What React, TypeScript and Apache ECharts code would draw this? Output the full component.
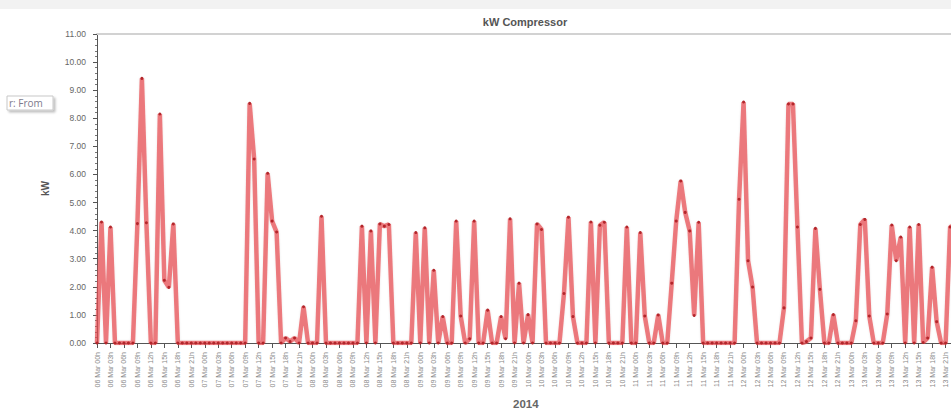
import React, { useEffect, useRef } from "react";
import * as echarts from "echarts";

// Tick labels: hourly categories, 06 Mar 00h .. 13 Mar 23h
const DAYS = ["06", "07", "08", "09", "10", "11", "12", "13"];
const MONTH = "Mar";
const categories: string[] = [];
for (const d of DAYS) {
  for (let hr = 0; hr < 24; hr++) {
    categories.push(`${d} ${MONTH} ${String(hr).padStart(2, "0")}h`);
  }
}

// kW Compressor, one value per hour
const kwCompressor: number[] = [
  // 06 Mar
  0, 4.31, 0, 4.13, 0, 0, 0, 0, 0, 4.25, 9.42, 4.28, 0, 0, 8.15, 2.23, 1.98, 4.24, 0, 0, 0, 0, 0, 0,
  // 07 Mar
  0, 0, 0, 0, 0, 0, 0, 0, 0, 0, 8.53, 6.55, 0, 0, 6.04, 4.34, 3.95, 0, 0.18, 0.05, 0.18, 0, 1.29, 0,
  // 08 Mar
  0, 0, 4.51, 0, 0, 0, 0, 0, 0, 0, 0, 4.16, 0, 3.99, 0, 4.24, 4.16, 4.22, 0, 0, 0, 0, 0, 3.93,
  // 09 Mar
  0, 4.1, 0, 2.59, 0, 0.94, 0, 0, 4.34, 0.96, 0, 0.15, 4.34, 0, 0, 1.17, 0, 0, 0.94, 0.15, 4.42, 0, 2.13, 0,
  // 10 Mar
  1.01, 0, 4.24, 4.04, 0, 0, 0, 0, 1.76, 4.48, 0.94, 0, 0, 0, 4.31, 0, 4.19, 4.3, 0, 0, 0, 0, 4.13, 0,
  // 11 Mar
  0, 3.93, 0.96, 0, 0, 1.0, 0, 0, 2.13, 4.34, 5.77, 4.65, 3.99, 0.98, 4.3, 0, 0, 0, 0, 0, 0, 0, 0, 5.12,
  // 12 Mar
  8.58, 2.93, 1.99, 0, 0, 0, 0, 0, 0, 1.25, 8.51, 8.51, 4.13, 0, 0.05, 0.18, 4.08, 1.91, 0, 0, 1.01, 0, 0, 0,
  // 13 Mar
  0, 0.79, 4.22, 4.4, 0.96, 0, 0, 0, 1.03, 4.2, 2.93, 3.77, 0, 4.13, 0, 4.22, 0.02, 0.18, 2.7, 0.76, 0, 0, 4.13, 4.2,
];

const Y_MIN = 0;
const Y_MAX = 11;
const Y_STEP = 1;

const TITLE = "kW Compressor";
const X_NAME = "2014";
const Y_NAME = "kW";
const FILTER_TEXT = "r: From";

export default function App() {
  const ref = useRef<HTMLDivElement>(null);

  useEffect(() => {
    if (!ref.current) return;
    const chart = echarts.init(ref.current, undefined, { renderer: "svg" });
    const font = "Liberation Sans, Arial, sans-serif";
    chart.setOption({
      animation: false,
      backgroundColor: "#ffffff",
      textStyle: { fontFamily: font },
      title: {
        text: TITLE,
        left: "center",
        top: 11,
        textStyle: { fontSize: 11, fontWeight: "bold", color: "#555555", fontFamily: font },
      },
      grid: { left: 97, right: 95.4, top: 34, bottom: 68 },
      xAxis: [
        {
          type: "category",
          data: categories,
          boundaryGap: false,
          name: X_NAME,
          nameLocation: "middle",
          nameGap: 55,
          nameTextStyle: { fontSize: 11.5, fontWeight: "bold", color: "#666666", fontFamily: font },
          axisLine: { show: true, lineStyle: { color: "#555555", width: 1 } },
          axisTick: { show: true, interval: 2, length: 5, lineStyle: { color: "#555555" } },
          axisLabel: { interval: 2, rotate: 90, fontSize: 7, color: "#888888", margin: 9, fontFamily: font },
          splitLine: { show: false },
        },
        {
          type: "category",
          data: categories,
          boundaryGap: false,
          position: "top",
          axisLine: { show: true, lineStyle: { color: "#d2d2d2", width: 2 } },
          axisTick: { show: false },
          axisLabel: { show: false },
          splitLine: { show: false },
        },
      ],
      yAxis: {
        type: "value",
        min: Y_MIN,
        max: Y_MAX,
        interval: Y_STEP,
        name: Y_NAME,
        nameLocation: "middle",
        nameGap: 47,
        nameRotate: 90,
        nameTextStyle: { fontSize: 10, fontWeight: "bold", color: "#555555", fontFamily: font },
        axisLine: { show: true, lineStyle: { color: "#555555", width: 1 } },
        axisTick: { show: true, length: 4, lineStyle: { color: "#555555" } },
        minorTick: { show: true, splitNumber: 5, length: 2, lineStyle: { color: "#777777" } },
        axisLabel: {
          formatter: (v: number) => v.toFixed(2),
          fontSize: 8.5,
          color: "#666666",
          margin: 11,
          fontFamily: font,
        },
        splitLine: { show: false },
      },
      series: [
        {
          name: TITLE,
          type: "line",
          data: kwCompressor,
          xAxisIndex: 0,
          symbol: "circle",
          symbolSize: 3,
          showSymbol: true,
          showAllSymbol: true,
          lineStyle: {
            color: "rgba(232,76,80,0.72)",
            width: 4.5,
            shadowBlur: 2,
            shadowColor: "rgba(0,0,0,0.12)",
          },
          itemStyle: { color: "#b3262b", borderWidth: 0 },
          emphasis: { disabled: true },
        },
      ],
      graphic: [
        {
          type: "rect",
          silent: true,
          shape: { x: 0, y: 0, width: 1050, height: 9 },
          style: { fill: "#f2f2f2" },
        },
        {
          type: "rect",
          silent: true,
          shape: { x: 7, y: 96, width: 46, height: 14 },
          style: {
            fill: "#ffffff",
            stroke: "#c8c8c8",
            lineWidth: 1,
            shadowBlur: 2,
            shadowOffsetX: 2,
            shadowOffsetY: 2,
            shadowColor: "rgba(0,0,0,0.25)",
          },
        },
        {
          type: "text",
          silent: true,
          x: 9,
          y: 103,
          style: {
            text: FILTER_TEXT,
            fontSize: 10,
            fill: "#7d7a8c",
            fontFamily: "Open Sans, Liberation Sans, sans-serif",
            verticalAlign: "middle",
          },
        },
      ],
    });
    return () => chart.dispose();
  }, []);

  return (
    <div
      style={{
        position: "fixed",
        left: 0,
        top: 0,
        width: 951,
        height: 415,
        overflow: "hidden",
        background: "#ffffff",
      }}
    >
      <div ref={ref} style={{ width: 1050, height: 415 }} />
    </div>
  );
}
